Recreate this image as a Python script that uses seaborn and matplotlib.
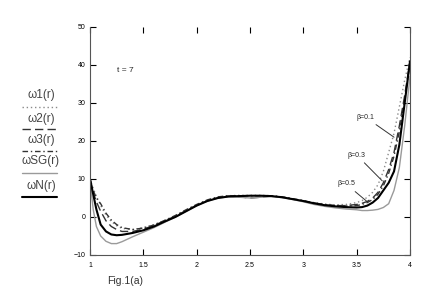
"""Fig.1(a): perfis omega(r) para t = 7, varios beta."""

import matplotlib

matplotlib.use("Agg")
import matplotlib.pyplot as plt
import seaborn as sns
from matplotlib.lines import Line2D

# ---------------------------------------------------------------------------
# Dados
# ---------------------------------------------------------------------------

r = [1.0, 1.03, 1.06, 1.1, 1.15, 1.2, 1.25, 1.3, 1.4, 1.5, 1.6, 1.7, 1.8, 1.9,
     2.0, 2.1, 2.2, 2.3, 2.4, 2.5, 2.6, 2.7, 2.8, 2.9, 3.0, 3.1, 3.2, 3.3, 3.4,
     3.5, 3.55, 3.6, 3.65, 3.7, 3.75, 3.8, 3.85, 3.9, 3.95, 4.0]

omega1 = [10, 7.5, 5.5, 3, 0.5, -1.2, -2.3, -3.0, -3.3, -2.8, -2.0, -0.9, 0.3, 1.8,
          3.2, 4.4, 5.2, 5.6, 5.7, 5.7, 5.7, 5.6, 5.3, 4.8, 4.3, 3.8, 3.4, 3.2, 3.3,
          3.8, 4.3, 5.2, 6.5, 8.5, 12, 17, 22, 29, 36, 42]

omega2 = [10, 6.5, 4, 1.5, -1, -2.5, -3.3, -3.8, -3.8, -3.2, -2.2, -1.0, 0.2, 1.7,
          3.1, 4.3, 5.1, 5.5, 5.3, 5.0, 5.2, 5.5, 5.2, 4.7, 4.2, 3.7, 3.2, 3.0, 3.0,
          3.3, 3.6, 4.1, 5.0, 6.5, 9, 12.5, 17, 24, 32, 41]

omega3 = [10, 7, 5, 3.5, 1, -0.8, -2, -2.8, -3.3, -2.9, -2.1, -0.9, 0.4, 1.9,
          3.3, 4.5, 5.3, 5.6, 5.6, 5.6, 5.6, 5.6, 5.3, 4.8, 4.3, 3.7, 3.3, 3.0, 2.9,
          3.0, 3.3, 3.8, 4.6, 6.0, 8.2, 11.5, 16, 22.5, 31, 40.5]

omega_sg = [10, 2, -2.5, -5, -6.4, -7, -7, -6.5, -5.2, -4.0, -2.8, -1.4, 0, 1.5,
            3.0, 4.2, 5.0, 5.3, 5.2, 5.0, 5.2, 5.4, 5.1, 4.6, 4.0, 3.3, 2.8, 2.4, 2.1,
            1.9, 1.7, 1.7, 1.8, 2.0, 2.5, 3.5, 7, 13, 24, 37]

omega_n = [10, 6, 2, -2, -3.8, -4.6, -4.8, -4.7, -4.2, -3.5, -2.5, -1.2, 0, 1.5,
           3.0, 4.2, 5.0, 5.4, 5.5, 5.6, 5.6, 5.5, 5.2, 4.7, 4.2, 3.6, 3.1, 2.8, 2.6,
           2.5, 2.6, 3.0, 3.8, 5.0, 7.0, 9.0, 12, 19, 30, 41]

rotulos = ["ω1(r)", "ω2(r)", "ω3(r)", "ωSG(r)", "ωN(r)"]
x_ticks = [1, 1.5, 2, 2.5, 3, 3.5, 4]
x_tick_labels = ["1", "1.5", "2", "2.5", "3", "3.5", "4"]
y_ticks = [-10, 0, 10, 20, 30, 40, 50]
betas = ["β=0.1", "β=0.3", "β=0.5"]

# ---------------------------------------------------------------------------
# Figura
# ---------------------------------------------------------------------------

sns.set_style("white")
plt.rcParams["font.family"] = ["Liberation Sans", "DejaVu Sans"]

fig = plt.figure(figsize=(4.36, 3.04), dpi=100)
ax = fig.add_axes([0.2064, 0.1612, 0.734, 0.75])

estilos = [
    dict(color="#8a8a8a", linestyle=(0, (1, 2)), linewidth=1.0),
    dict(color="#333333", linestyle=(0, (6, 3)), linewidth=1.0),
    dict(color="#333333", linestyle=(0, (4, 2, 1, 2)), linewidth=1.0),
    dict(color="#9a9a9a", linestyle="-", linewidth=1.0),
    dict(color="black", linestyle="-", linewidth=1.5),
]
series = [omega1, omega2, omega3, omega_sg, omega_n]

for ys, est in zip(series, estilos):
    sns.lineplot(x=r, y=ys, ax=ax, **est)

ax.set_xlim(1, 4)
ax.set_ylim(-10, 50)
ax.set_xticks(x_ticks)
ax.set_xticklabels(x_tick_labels)
ax.set_yticks(y_ticks)
ax.tick_params(direction="in", length=4, width=0.8, labelsize=5,
               top=True, right=True, left=True, bottom=True, colors="black")
ax.tick_params(axis="x", pad=5)
for nome in ["left", "right", "bottom"]:
    ax.spines[nome].set_color("#555555")
    ax.spines[nome].set_linewidth(0.8)
ax.spines["top"].set_visible(False)

ax.text(1.33, 38.5, "t = 7", fontsize=6, ha="center", va="center")

# anotacoes beta
for txt, xy, xytext in zip(
    betas,
    [(3.85, 21), (3.74, 9.5), (3.6, 4)],
    [(3.58, 26.3), (3.5, 16.3), (3.4, 8.7)],
):
    ax.annotate(txt, xy=xy, xytext=xytext, fontsize=5, ha="center", va="center",
                arrowprops=dict(arrowstyle="-", color="#333333", lw=0.7,
                                shrinkA=1, shrinkB=0))

# legenda manual: texto acima, amostra de linha abaixo
y_texto = [95, 119, 140, 161, 186]
y_linha = [107, 129, 151, 173, 197]
for lbl, est, yt, yl in zip(rotulos, estilos, y_texto, y_linha):
    fig.text(41 / 436, 1 - yt / 304, lbl, fontsize=8.5, ha="center", va="center",
             color="#444444")
    fig.add_artist(Line2D([22 / 436, 57 / 436], [1 - yl / 304, 1 - yl / 304],
                          transform=fig.transFigure, **est))

fig.text(125 / 436, 1 - 281 / 304, "Fig.1(a)", fontsize=7.5, ha="center",
         va="center", color="#333333")

fig.savefig("out.png", dpi=100)
plt.close(fig)
